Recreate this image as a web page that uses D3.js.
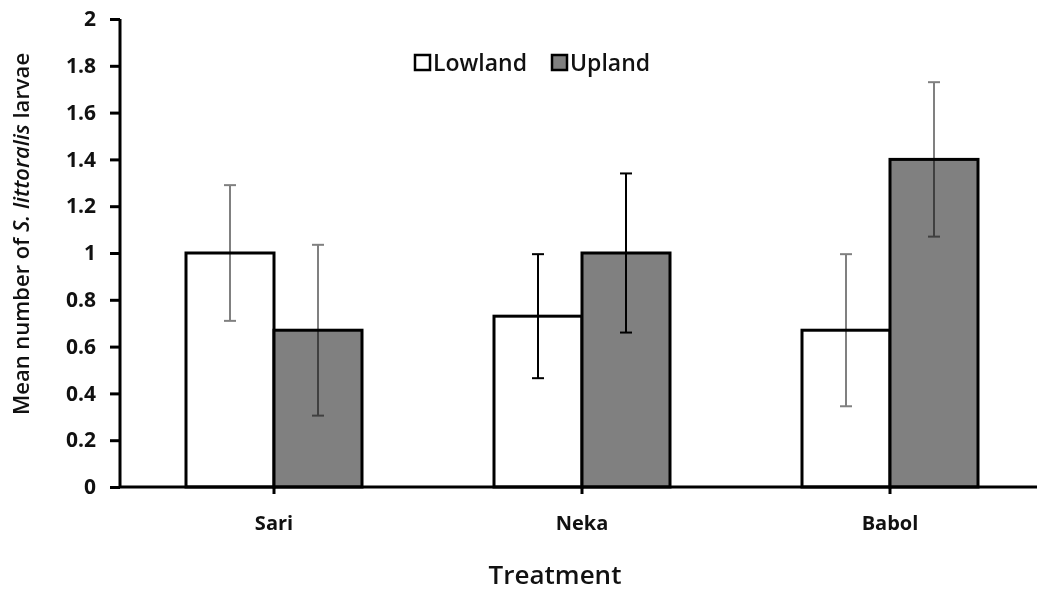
<!DOCTYPE html>
<html>
<head>
<meta charset="utf-8">
<script src="https://cdn.jsdelivr.net/npm/d3@7"></script>
<style>
  html, body { margin: 0; padding: 0; background: #fff; }
  svg { display: block; font-family: "Open Sans", sans-serif; }
</style>
</head>
<body>
<div id="chart"></div>
<script>
// data
const categories = ["Sari", "Neka", "Babol"];
const series = ["Lowland", "Upland"];
const lowland = [1.0, 0.73, 0.67];
const upland = [0.67, 1.0, 1.40];
const lowlandErr = [0.29, 0.265, 0.325];
const uplandErr = [0.365, 0.34, 0.33];
const errColor = ["#808080", "#000000", "#808080"]; // Neka bars use black whiskers
const yTicks = [0, 0.2, 0.4, 0.6, 0.8, 1, 1.2, 1.4, 1.6, 1.8, 2];

const width = 1037, height = 593;
const margin = { left: 120, top: 19, bottom: 106 };
const plotBottom = height - margin.bottom; // 487

const svg = d3.select("#chart").append("svg")
  .attr("width", width)
  .attr("height", height);

const x0 = d3.scaleBand()
  .domain(categories)
  .range([margin.left, margin.left + 3 * 308])
  .padding(0);

const x1 = d3.scaleBand()
  .domain(series)
  .range([0, x0.bandwidth()])
  .paddingInner(0)
  .paddingOuter(0.75);

const y = d3.scaleLinear()
  .domain([0, 2])
  .range([plotBottom, margin.top]);

const rows = categories.map((c, i) => ({
  cat: c,
  values: [
    { key: "Lowland", v: lowland[i], e: lowlandErr[i], fill: "#ffffff" },
    { key: "Upland", v: upland[i], e: uplandErr[i], fill: "#808080" }
  ],
  err: errColor[i]
}));

// bars
const group = svg.selectAll(".grp")
  .data(rows)
  .enter().append("g")
  .attr("class", "grp")
  .attr("transform", (d) => `translate(${x0(d.cat)},0)`);

group.selectAll("rect")
  .data((d) => d.values)
  .enter().append("rect")
  .attr("x", (d) => x1(d.key))
  .attr("y", (d) => y(d.v))
  .attr("width", x1.bandwidth())
  .attr("height", (d) => y(0) - y(d.v))
  .attr("fill", (d) => d.fill)
  .attr("stroke", "#000")
  .attr("stroke-width", 3);

// error bars
const err = group.selectAll(".err")
  .data((d) => d.values.map((v) => ({ ...v, color: d.err })))
  .enter().append("g")
  .attr("class", "err")
  .attr("stroke", (d) => d.color)
  .attr("stroke-width", 2)
  .style("mix-blend-mode", "multiply");

err.append("line")
  .attr("x1", (d) => x1(d.key) + x1.bandwidth() / 2)
  .attr("x2", (d) => x1(d.key) + x1.bandwidth() / 2)
  .attr("y1", (d) => y(d.v + d.e))
  .attr("y2", (d) => y(d.v - d.e));

err.selectAll(".cap")
  .data((d) => [d.v + d.e, d.v - d.e].map((yy) => ({ yy, d })))
  .enter().append("line")
  .attr("x1", (c) => x1(c.d.key) + x1.bandwidth() / 2 - 6)
  .attr("x2", (c) => x1(c.d.key) + x1.bandwidth() / 2 + 6)
  .attr("y1", (c) => y(c.yy))
  .attr("y2", (c) => y(c.yy));

// y axis
const yAxis = svg.append("g")
  .attr("transform", `translate(${margin.left},0)`)
  .call(d3.axisLeft(y).tickValues(yTicks).tickFormat((d) => d3.format("")(+d.toFixed(1))).tickSize(10).tickPadding(14));
yAxis.select(".domain").attr("stroke", "#000").attr("stroke-width", 3).attr("d", `M0,${margin.top}V${plotBottom}`);
yAxis.selectAll(".tick line").attr("stroke-width", 3);
yAxis.selectAll(".tick text")
  .attr("font-family", "Open Sans")
  .attr("font-size", 21)
  .attr("font-weight", 700)
  .attr("fill", "#111");

// x axis
const xAxis = svg.append("g")
  .attr("transform", `translate(0,${plotBottom})`)
  .call(d3.axisBottom(x0).tickSize(7).tickPadding(22));
xAxis.select(".domain").attr("stroke-width", 3).attr("d", `M${margin.left},0H${margin.left + 3 * 308}`);
xAxis.selectAll(".tick line").attr("stroke-width", 3);
xAxis.selectAll(".tick text")
  .attr("font-family", "Open Sans")
  .attr("font-size", 20)
  .attr("font-weight", 700)
  .attr("fill", "#111");

// axis titles
svg.append("text")
  .attr("x", 555)
  .attr("y", 584)
  .attr("text-anchor", "middle")
  .attr("font-size", 26)
  .attr("font-weight", 600)
  .attr("fill", "#111")
  .text("Treatment");

const yt = svg.append("text")
  .attr("transform", `translate(29,234) rotate(-90)`)
  .attr("text-anchor", "middle")
  .attr("font-size", 22)
  .attr("font-weight", 600)
  .attr("fill", "#111");
yt.append("tspan").text("Mean number of ");
yt.append("tspan").attr("font-style", "italic").text("S. littoralis");
yt.append("tspan").text(" larvae");

// legend
const legendX = [415, 552];
const legend = svg.selectAll(".leg")
  .data(series)
  .enter().append("g")
  .attr("class", "leg")
  .attr("transform", (d, i) => `translate(${legendX[i]},55)`);
legend.append("rect")
  .attr("width", 15)
  .attr("height", 15)
  .attr("fill", (d, i) => (i === 0 ? "#fff" : "#808080"))
  .attr("stroke", "#000")
  .attr("stroke-width", 2.5);
legend.append("text")
  .attr("x", 18)
  .attr("y", 16)
  .attr("font-size", 23)
  .attr("font-weight", 600)
  .attr("fill", "#111")
  .text((d) => d);
</script>
</body>
</html>
